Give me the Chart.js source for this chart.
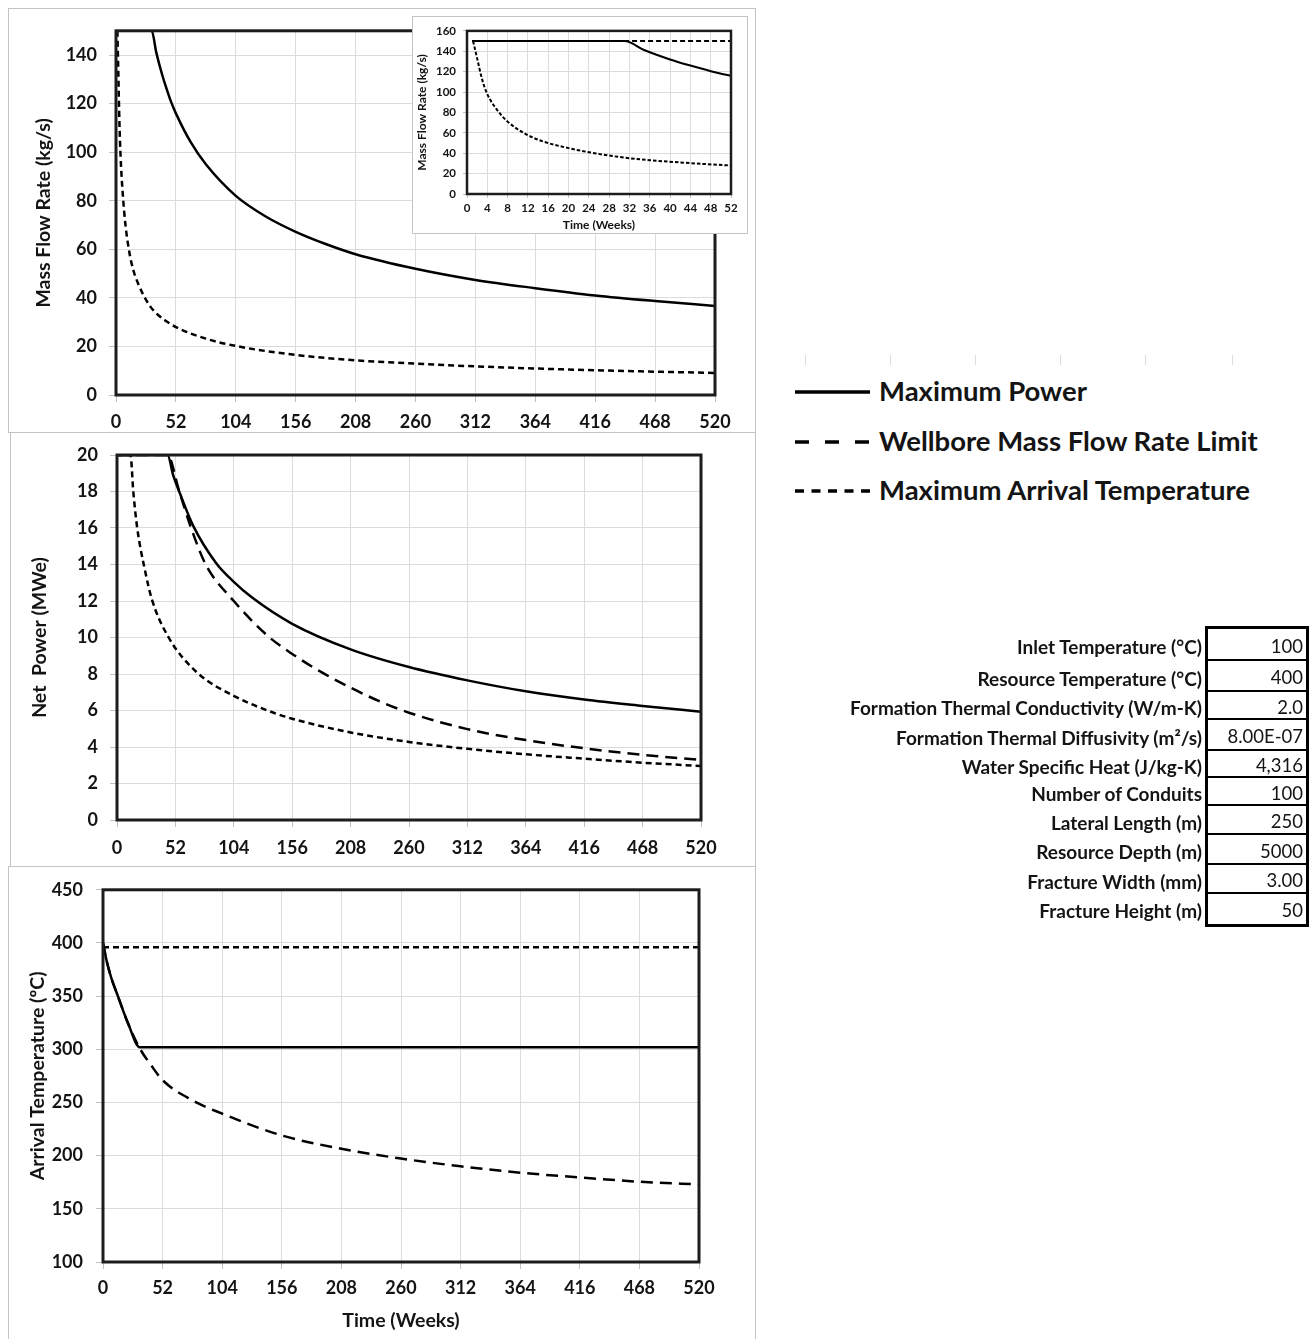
<!DOCTYPE html>
<html><head><meta charset="utf-8">
<script src="https://cdn.jsdelivr.net/npm/chart.js@4.4.1/dist/chart.umd.min.js"></script>
<style>
body{margin:0;background:#fff;width:1310px;height:1339px;position:relative;overflow:hidden;font-family:Lato,"Open Sans",sans-serif;color:#141414}
.panel{position:absolute;box-sizing:border-box;border:1px solid #c4c4c4;background:#fff}
canvas{position:absolute}
.leg{position:absolute;font-weight:bold;font-size:27.5px;white-space:nowrap;line-height:32px}
.lbl{position:absolute;left:700px;width:502px;text-align:right;font-weight:bold;font-size:19px;white-space:nowrap}
.val{position:absolute;left:1208px;width:98px;text-align:right;font-size:18.5px;box-sizing:border-box;padding-right:3px;border-bottom:2px solid #000}
.tk{position:absolute;width:1px;height:10px;background:#dcdcdc;top:355px}
</style></head><body>
<div class="panel" style="left:8px;top:8px;width:748px;height:425px"></div>
<div class="panel" style="left:10px;top:432px;width:746px;height:435px"></div>
<div class="panel" style="left:8px;top:866px;width:748px;height:480px"></div>
<canvas id="cMass" width="747" height="424" style="left:8px;top:8px"></canvas>
<div class="panel" style="left:412px;top:16px;width:336px;height:218px"></div>
<canvas id="cInset" width="334" height="216" style="left:413px;top:17px"></canvas>
<canvas id="cPower" width="745" height="434" style="left:10px;top:432px"></canvas>
<canvas id="cTemp" width="747" height="473" style="left:8px;top:866px"></canvas>
<div id="legend"></div>
<div id="table"></div>
<script>
// ---------------- DATA ----------------
const seriesNames = ['Maximum Power', 'Wellbore Mass Flow Rate Limit', 'Maximum Arrival Temperature'];

// Mass flow rate (kg/s) vs time (weeks)
const mfPowerWeeks = [1, 31, 35, 40, 44, 48, 52, 65, 78, 104, 130, 156, 182, 208, 260, 312, 364, 416, 468, 520];
const mfPowerVals  = [150, 150, 141, 132, 126, 120.5, 116, 104, 95, 82, 73.5, 67.2, 62.2, 58, 52, 47.4, 44, 41, 38.7, 36.7];
const mfWallWeeks  = [1, 520];
const mfWallVals   = [150, 150];
const mfTempWeeks  = [1.2, 2, 3, 4, 6, 8, 11.5, 15, 20, 24, 30, 36, 43, 52, 78, 104, 156, 208, 260, 312, 364, 416, 468, 520];
const mfTempVals   = [150, 133, 112, 98, 82, 71, 59, 51.5, 45, 41, 36.3, 33.2, 30.6, 28, 23.2, 20.2, 16.5, 14.3, 12.9, 11.8, 10.9, 10.2, 9.6, 9.1];

// Net power (MWe) vs time (weeks)
const npPowerWeeks = [0, 45, 50, 56, 68, 88, 104, 120, 156, 208, 260, 312, 364, 416, 468, 520];
const npPowerVals  = [20, 20, 18.9, 17.9, 16.1, 14.1, 13.05, 12.2, 10.75, 9.35, 8.38, 7.65, 7.05, 6.6, 6.25, 5.93];
const npWallWeeks  = [0, 45, 55, 66, 79, 104, 134, 156, 182, 208, 234, 260, 312, 364, 416, 468, 520];
const npWallVals   = [20, 20, 18.1, 16, 14, 12, 10.1, 9.1, 8.1, 7.25, 6.5, 5.88, 4.98, 4.38, 3.93, 3.57, 3.29];
const npTempWeeks  = [0, 12, 14.5, 18, 24.5, 31, 46, 71, 104, 134, 156, 208, 260, 312, 364, 416, 468, 520];
const npTempVals   = [20, 20, 18, 16, 13.8, 12.1, 10, 8.1, 6.8, 6.0, 5.55, 4.8, 4.28, 3.9, 3.6, 3.36, 3.14, 2.96];

// Arrival temperature (°C) vs time (weeks)
const atPowerWeeks = [0, 3, 7, 13, 22, 32, 520];
const atPowerVals  = [400, 384, 368, 350, 324, 302, 302];
const atWallWeeks  = [0, 3, 7, 13, 22, 32, 42, 52, 78, 104, 156, 208, 260, 312, 364, 416, 468, 520];
const atWallVals   = [400, 384, 368, 350, 324, 301, 285, 271, 252, 239.5, 219, 206.5, 197.3, 190, 184, 179.5, 175.5, 173];
const atTempWeeks  = [0, 520];
const atTempVals   = [396, 396];

// Parameter table
const paramLabels = ['Inlet Temperature (°C)', 'Resource Temperature (°C)', 'Formation Thermal Conductivity (W/m-K)',
  'Formation Thermal Diffusivity (m²/s)', 'Water Specific Heat (J/kg-K)', 'Number of Conduits', 'Lateral Length (m)',
  'Resource Depth (m)', 'Fracture Width (mm)', 'Fracture Height (m)'];
const paramValues = ['100', '400', '2.0', '8.00E-07', '4,316', '100', '250', '5000', '3.00', '50'];

// ---------------- STYLE ----------------
const FONT = 'Lato, "Open Sans", sans-serif';
const INK = '#141414';
const DASH_LONG = [12, 7];
const DASH_SHORT = [6, 4];

const framePlugin = {
  id: 'frame',
  afterDatasetsDraw(chart, args, opts) {
    const {ctx, chartArea: a} = chart;
    ctx.save();
    ctx.strokeStyle = '#1c1c1c';
    ctx.lineWidth = opts.width || 3;
    ctx.strokeRect(a.left, a.top, a.right - a.left, a.bottom - a.top);
    ctx.restore();
  }
};
Chart.register(framePlugin);

function xy(w, v) { return w.map((x, i) => ({x: x, y: v[i]})); }
function ds(w, v, dash, width) {
  return {data: xy(w, v), borderColor: '#000', borderWidth: width, borderDash: dash, pointRadius: 0,
    fill: false, cubicInterpolationMode: 'monotone', borderCapStyle: 'butt', borderJoinStyle: 'round'};
}

function makeChart(id, g) {
  const tickFont = {family: FONT, size: g.tickSize, weight: 'bold'};
  const titleFont = {family: FONT, size: g.titleSize, weight: 'bold'};
  return new Chart(document.getElementById(id), {
    type: 'line',
    data: {datasets: g.datasets},
    options: {
      responsive: false, animation: false, devicePixelRatio: 1,
      layout: {padding: {left: 0, top: g.padTop, right: g.padRight, bottom: 0}},
      plugins: {legend: {display: false}, tooltip: {enabled: false}, frame: {width: g.frameW}},
      scales: {
        x: {type: 'linear', min: g.xMin, max: g.xMax,
          ticks: {stepSize: g.xStep, autoSkip: false, maxRotation: 0, color: INK, font: tickFont, padding: g.xTickPad, includeBounds: false},
          grid: {color: '#dcdcdc', lineWidth: 1, tickLength: g.tickLen, tickColor: '#c0c0c0', drawTicks: true},
          border: {display: false},
          title: {display: !!g.xTitle, text: g.xTitle || '', color: INK, font: titleFont, padding: {top: 0, bottom: g.xTitlePad || 0}},
          afterFit(s) { s.height = g.xH; }
        },
        y: {type: 'linear', min: g.yMin, max: g.yMax,
          ticks: {stepSize: g.yStep, color: INK, font: tickFont, padding: g.yTickPad, includeBounds: false},
          grid: {color: '#dcdcdc', lineWidth: 1, tickLength: g.tickLen, tickColor: '#c0c0c0', drawTicks: true},
          border: {display: false},
          title: {display: true, text: g.yTitle, color: INK, font: titleFont, padding: {top: g.yTitlePad, bottom: 0}},
          afterFit(s) { s.width = g.yW; }
        }
      }
    }
  });
}

// Top: mass flow rate
makeChart('cMass', {
  datasets: [ds(mfWallWeeks, mfWallVals, DASH_LONG, 2.5), ds(mfTempWeeks, mfTempVals, DASH_SHORT, 2.5), ds(mfPowerWeeks, mfPowerVals, [], 2.5)],
  xMin: 0, xMax: 520, xStep: 52, yMin: 0, yMax: 150, yStep: 20,
  yTitle: 'Mass Flow Rate (kg/s)', tickSize: 18, titleSize: 19.5,
  yW: 108, xH: 37, padTop: 22, padRight: 40, tickLen: 7, xTickPad: 9, yTickPad: 12, yTitlePad: 24, frameW: 3
});
// Inset: first 52 weeks
makeChart('cInset', {
  datasets: [ds(mfWallWeeks, mfWallVals, [5, 3], 2), ds(mfTempWeeks, mfTempVals, [3.5, 2], 2), ds(mfPowerWeeks, mfPowerVals, [], 2)],
  xMin: 0, xMax: 52, xStep: 4, yMin: 0, yMax: 160, yStep: 20,
  yTitle: 'Mass Flow Rate (kg/s)', xTitle: 'Time (Weeks)', tickSize: 11.5, titleSize: 12,
  yW: 54, xH: 39, padTop: 10, padRight: 16, tickLen: 4, xTickPad: 3, yTickPad: 7, yTitlePad: 2, xTitlePad: 1, frameW: 2.5
});
// Middle: net power
makeChart('cPower', {
  datasets: [ds(npWallWeeks, npWallVals, DASH_LONG, 2.5), ds(npTempWeeks, npTempVals, DASH_SHORT, 2.5), ds(npPowerWeeks, npPowerVals, [], 2.5)],
  xMin: 0, xMax: 520, xStep: 52, yMin: 0, yMax: 20, yStep: 2,
  yTitle: 'Net  Power (MWe)', tickSize: 18, titleSize: 19.5,
  yW: 107, xH: 46, padTop: 23, padRight: 54, tickLen: 7, xTickPad: 10, yTickPad: 12, yTitlePad: 18, frameW: 3
});
// Bottom: arrival temperature
makeChart('cTemp', {
  datasets: [ds(atTempWeeks, atTempVals, DASH_SHORT, 2.5), ds(atWallWeeks, atWallVals, DASH_LONG, 2.5), ds(atPowerWeeks, atPowerVals, [], 2.5)],
  xMin: 0, xMax: 520, xStep: 52, yMin: 100, yMax: 450, yStep: 50,
  yTitle: 'Arrival Temperature (ºC)', xTitle: 'Time (Weeks)', tickSize: 18, titleSize: 19.5,
  yW: 95, xH: 77, padTop: 23, padRight: 56, tickLen: 7, xTickPad: 8, yTickPad: 13, yTitlePad: 18, xTitlePad: 7, frameW: 3
});

// ---------------- LEGEND ----------------
(function () {
  const leg = document.getElementById('legend');
  const dashes = ['', '14 16', '9 7.5'];
  const ys = [392, 441.5, 491];
  const ns = 'http://www.w3.org/2000/svg';
  ['805','890','975','1060','1145','1232'].forEach(x => {
    const t = document.createElement('div'); t.className = 'tk'; t.style.left = x + 'px'; leg.appendChild(t);
  });
  seriesNames.forEach((name, i) => {
    const svg = document.createElementNS(ns, 'svg');
    svg.setAttribute('width', '80'); svg.setAttribute('height', '10');
    svg.style.position = 'absolute'; svg.style.left = '793px'; svg.style.top = (ys[i] - 5) + 'px';
    const ln = document.createElementNS(ns, 'line');
    ln.setAttribute('x1', '2'); ln.setAttribute('x2', '77'); ln.setAttribute('y1', '5'); ln.setAttribute('y2', '5');
    ln.setAttribute('stroke', '#000'); ln.setAttribute('stroke-width', '3.5');
    if (dashes[i]) ln.setAttribute('stroke-dasharray', dashes[i]);
    svg.appendChild(ln); leg.appendChild(svg);
    const t = document.createElement('div'); t.className = 'leg';
    t.style.left = '879px'; t.style.top = (ys[i] - 17) + 'px'; t.textContent = name;
    leg.appendChild(t);
  });
})();

// ---------------- TABLE ----------------
(function () {
  const tb = document.getElementById('table');
  const heights = [32, 31, 28, 31, 27, 28, 29, 30, 29, 30];
  const box = document.createElement('div');
  box.style.cssText = 'position:absolute;left:1205px;top:626px;width:104px;height:301px;border:3px solid #000;box-sizing:border-box';
  tb.appendChild(box);
  let y = 629;
  paramLabels.forEach((lab, i) => {
    const h = heights[i];
    const l = document.createElement('div'); l.className = 'lbl';
    l.style.top = y + 'px'; l.style.height = h + 'px'; l.style.lineHeight = (h + 4) + 'px';
    l.textContent = lab; tb.appendChild(l);
    const v = document.createElement('div'); v.className = 'val';
    v.style.top = y + 'px'; v.style.height = h + 'px'; v.style.lineHeight = (h + 2) + 'px';
    if (i === paramLabels.length - 1) v.style.borderBottom = 'none';
    v.textContent = paramValues[i]; tb.appendChild(v);
    y += h;
  });
})();
</script>
</body></html>
